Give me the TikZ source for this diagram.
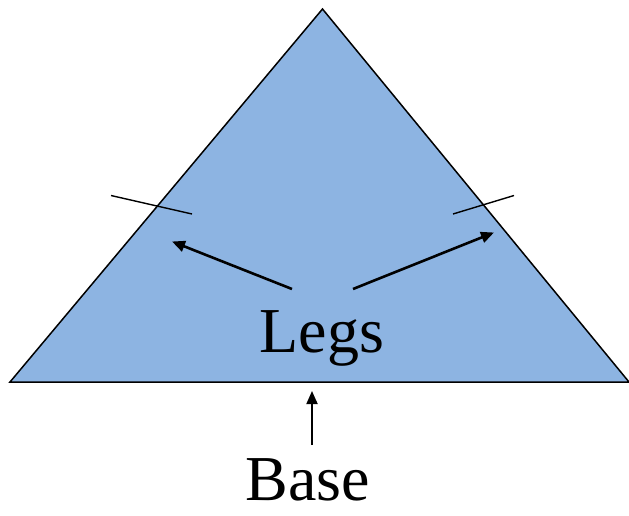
\documentclass[tikz,border=0pt]{standalone}
\usepackage{fontspec}
\setmainfont{Liberation Serif}
\usetikzlibrary{arrows.meta}
\definecolor{legblue}{RGB}{141,180,226}
\tikzset{
  label text/.style={font=\fontsize{64}{70}\selectfont, inner sep=0pt, anchor=base},
  pointer/.style={-{Triangle[length=13pt,width=11pt]}, line width=2.6pt},
  tick mark/.style={line width=1.4pt}
}
\begin{document}
\begin{tikzpicture}[x=1pt,y=-1pt]
\useasboundingbox (0,0) rectangle (629,515);
% triangle
\coordinate (apex) at (322.5,9);
\coordinate (bl) at (10,382);
\coordinate (br) at (629,382);
\filldraw[fill=legblue, draw=black, line width=1.5pt, line join=miter] (bl) -- (apex) -- (br) -- cycle;
% tick marks on the legs
\coordinate (lt1) at (111,195.5); \coordinate (lt2) at (192,214);
\coordinate (rt1) at (453,214); \coordinate (rt2) at (514,195.5);
\draw[tick mark] (lt1) -- (lt2);
\draw[tick mark] (rt1) -- (rt2);
% labels
\node[label text] (legs) at (322,352) {Legs};
\node[label text] (base) at (308,500) {Base};
% arrows
\coordinate (la) at (292,289); \coordinate (lh) at (172,241.5);
\coordinate (ra) at (353,289); \coordinate (rh) at (494,232.5);
\coordinate (ba) at (312,445); \coordinate (bh) at (312,391);
\draw[pointer] (la) -- (lh);
\draw[pointer] (ra) -- (rh);
\draw[pointer, line width=1.8pt] (ba) -- (bh);
\end{tikzpicture}
\end{document}
